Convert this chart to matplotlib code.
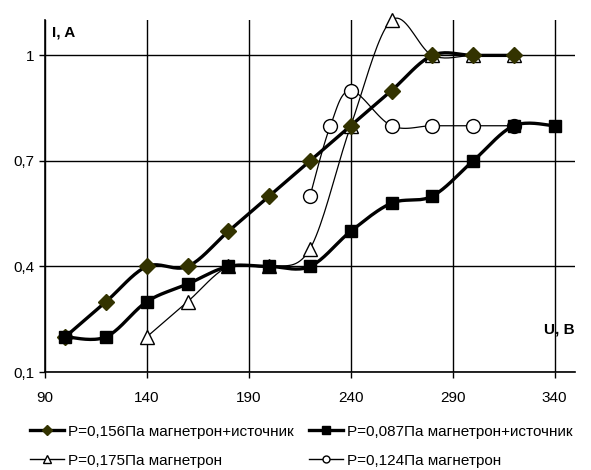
import matplotlib
matplotlib.use("Agg")
import matplotlib.pyplot as plt
import numpy as np
from matplotlib.lines import Line2D

plt.rcParams["font.family"] = ["Liberation Sans", "DejaVu Sans"]

# series
U_DIAMOND = [100, 120, 140, 160, 180, 200, 220, 240, 260, 280, 300, 320]
I_DIAMOND = [0.2, 0.3, 0.4, 0.4, 0.5, 0.6, 0.7, 0.8, 0.9, 1.0, 1.0, 1.0]

U_SQUARE = [100, 120, 140, 160, 180, 200, 220, 240, 260, 280, 300, 320, 340]
I_SQUARE = [0.2, 0.2, 0.3, 0.35, 0.4, 0.4, 0.4, 0.5, 0.58, 0.6, 0.7, 0.8, 0.8]

U_TRIANGLE = [140, 160, 180, 200, 220, 240, 260, 280, 300, 320]
I_TRIANGLE = [0.2, 0.3, 0.4, 0.4, 0.45, 0.8, 1.1, 1.0, 1.0, 1.0]

U_CIRCLE = [220, 230, 240, 260, 280, 300, 320]
I_CIRCLE = [0.6, 0.8, 0.9, 0.8, 0.8, 0.8, 0.8]

LABELS = ["P=0,156Па магнетрон+источник", "P=0,087Па магнетрон+источник",
          "P=0,175Па магнетрон", "P=0,124Па магнетрон"]

X_TICKS = [90, 140, 190, 240, 290, 340]
Y_TICKS = [0.1, 0.4, 0.7, 1.0]
Y_TICK_LABELS = ["0,1", "0,4", "0,7", "1"]


def smooth(xs, ys, n=20):
    # Catmull-Rom curve through the points (Excel-like smoothed line)
    p = np.column_stack([xs, ys]).astype(float)
    p = np.vstack([p[0], p, p[-1]])
    out = []
    t = np.linspace(0, 1, n, endpoint=False)[:, None]
    for i in range(1, len(p) - 2):
        p0, p1, p2, p3 = p[i - 1], p[i], p[i + 1], p[i + 2]
        seg = 0.5 * ((2 * p1) + (-p0 + p2) * t + (2 * p0 - 5 * p1 + 4 * p2 - p3) * t ** 2
                     + (-p0 + 3 * p1 - 3 * p2 + p3) * t ** 3)
        out.append(seg)
    out.append(p[-2][None, :])
    out = np.vstack(out)
    return out[:, 0], out[:, 1]


fig = plt.figure(figsize=(5.91, 4.70), dpi=100)
ax = fig.add_axes([0.076, 0.2085, 0.897, 0.7485])

OLIVE = "#333300"

ax.plot(*smooth(U_TRIANGLE, I_TRIANGLE), color="black", lw=0.9, zorder=3,
        clip_on=False)
ax.plot(U_TRIANGLE, I_TRIANGLE, ls="none", marker="^", ms=10, mfc="white",
        mec="black", mew=1.0, zorder=4, clip_on=False)

ax.plot(*smooth(U_CIRCLE, I_CIRCLE), color="black", lw=0.9, zorder=3)
ax.plot(U_CIRCLE, I_CIRCLE, ls="none", marker="o", ms=10, mfc="white",
        mec="black", mew=1.0, zorder=4)

ax.plot(*smooth(U_DIAMOND, I_DIAMOND), color="black", lw=2.4, zorder=5)
ax.plot(U_DIAMOND, I_DIAMOND, ls="none", marker="D", ms=8, mfc=OLIVE,
        mec=OLIVE, zorder=6)

ax.plot(*smooth(U_SQUARE, I_SQUARE), color="black", lw=2.4, zorder=7)
ax.plot(U_SQUARE, I_SQUARE, ls="none", marker="s", ms=9, mfc="black",
        mec="black", zorder=8)

ax.set_xlim(90, 350)
ax.set_ylim(0.1, 1.1)
ax.set_xticks(X_TICKS)
ax.set_yticks(Y_TICKS)
ax.set_yticklabels(Y_TICK_LABELS)
ax.tick_params(axis="both", labelsize=11, length=4, width=1.0, color="black")
ax.tick_params(axis="x", pad=10)
ax.grid(True, color="black", lw=1.0)
ax.set_axisbelow(True)
for s in ["top", "right"]:
    ax.spines[s].set_visible(False)
for s in ["left", "bottom"]:
    ax.spines[s].set_linewidth(1.2)

ax.text(0.013, 0.985, "I, A", transform=ax.transAxes, ha="left", va="top",
        fontsize=11, fontweight="bold")
ax.text(1.0, 0.10, "U, B", transform=ax.transAxes, ha="right", va="bottom",
        fontsize=11, fontweight="bold")

handles = [
    Line2D([], [], color="black", lw=2.4, marker="D", ms=5, mfc=OLIVE, mec=OLIVE),
    Line2D([], [], color="black", lw=1.0, marker="^", ms=6, mfc="white", mec="black"),
    Line2D([], [], color="black", lw=2.4, marker="s", ms=6, mfc="black", mec="black"),
    Line2D([], [], color="black", lw=1.0, marker="o", ms=5, mfc="white", mec="black"),
]
fig.legend(handles, [LABELS[0], LABELS[2], LABELS[1], LABELS[3]], ncol=2,
           loc="upper left", bbox_to_anchor=(0.027, 0.126), frameon=False,
           fontsize=11, handlelength=2.25, handletextpad=0.25,
           columnspacing=1.0, labelspacing=1.0, borderpad=0.4)

fig.savefig("out.png", dpi=100)
